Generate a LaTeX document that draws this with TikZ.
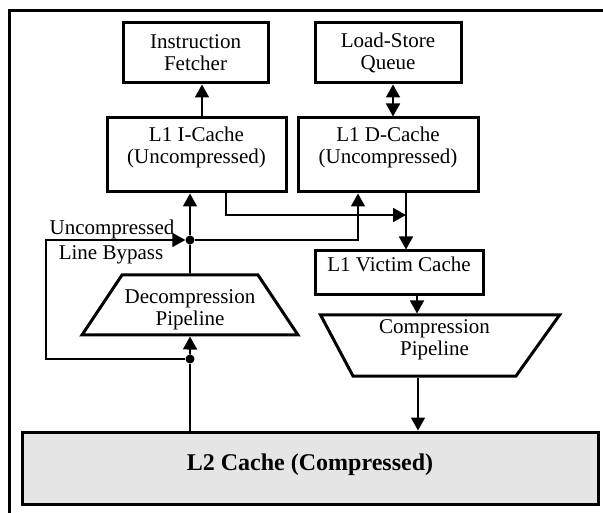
\documentclass[tikz,border=0pt]{standalone}
\usepackage{fontspec}
\setmainfont{Liberation Serif}
\usetikzlibrary{shapes.geometric}
\usetikzlibrary{arrows.meta}
\tikzstyle{every node}=[font=\lbl,align=center]
\tikzstyle{unit}=[draw=black,line width=3pt,inner sep=0pt]
\tikzstyle{pipe}=[unit,trapezium,trapezium stretches body]
\tikzstyle{wire}=[line width=1.7pt]
\tikzstyle{flow}=[wire,-{Triangle[length=13pt,width=14pt]}]
\tikzstyle{tap}=[fill=black,circle,inner sep=0pt,minimum size=9pt]
\newcommand{\lbl}{\fontsize{21}{22}\selectfont}

\begin{document}
\begin{tikzpicture}[x=1pt,y=-1pt]
  \useasboundingbox (0,0) rectangle (603,513);
  \draw[line width=3pt] (9,513) -- (9,11) -- (603,11);
  % upper level
  \node[unit,minimum width=145pt,minimum height=60pt] (fetch) at (195.5,53) {Instruction\\Fetcher};
  \node[unit,minimum width=146pt,minimum height=60pt] (lsq) at (388,53) {Load-Store\\Queue};
  \node[unit,minimum width=179pt,minimum height=74pt,text depth=19pt] (icache) at (196.5,155) {L1 I-Cache\\(Uncompressed)};
  \node[unit,minimum width=180pt,minimum height=74pt,text depth=19pt] (dcache) at (388,155) {L1 D-Cache\\(Uncompressed)};
  \node[unit,minimum width=168pt,minimum height=44pt,text depth=17pt] (victim) at (399,273) {L1 Victim Cache};
  % pipelines
  \node[pipe,trapezium angle=51.6,minimum width=216pt,minimum height=60pt,text height=46pt] (decomp) at (190,305) {Decompression\\Pipeline};
  \node[pipe,shape border rotate=180,trapezium left angle=50,trapezium right angle=58,
        minimum width=239pt,minimum height=61pt,text depth=16pt] (comp) at (434.5,345.5) {Compression\\Pipeline};
  \node[unit,fill=gray!20,minimum width=576pt,minimum height=72pt,text depth=12pt,font=\fontsize{24}{26}\bfseries] (l2) at (310,468) {L2 Cache (Compressed)};
  % junctions
  \node[tap] (jup) at (190,240) {};
  \node[tap] (jlow) at (190,359) {};
  \coordinate (byp) at (46,240);
  \coordinate (dup) at (358,240);
  \coordinate (imiss) at (226,215);
  \coordinate (merge) at (406,215);
  \coordinate (cout) at (418,400);
  \node at (112,229) {Uncompressed};
  \node at (111,255) {Line Bypass};
  % connectors
  \draw[flow] ([xshift=5.5pt]icache.north) -- ([xshift=5.5pt]icache.north |- fetch.south);
  \draw[wire,{Triangle[length=13pt,width=14pt]}-{Triangle[length=13pt,width=14pt]}]
    ([xshift=5pt]lsq.south) -- ([xshift=5pt]lsq.south |- dcache.north);
  \draw[wire] (l2.north -| jlow) -- (jlow);
  \draw[flow] (jlow) -- (decomp.south);
  \draw[wire] (decomp.north) -- (jup);
  \draw[flow] (jup) -- (icache.south -| jup);
  \draw[flow] (jlow) -| (byp) -- (jup);
  \draw[flow] (jup) -- (dup) -- (dcache.south -| dup);
  \draw[flow] (icache.south -| imiss) |- (merge);
  \draw[flow] (dcache.south -| merge) -- (victim.north -| merge);
  \draw[flow] ([xshift=18pt]victim.south) -- ([xshift=18pt]victim.south |- comp.north);
  \draw[flow] (comp.south -| cout) -- (l2.north -| cout);
\end{tikzpicture}
\end{document}
